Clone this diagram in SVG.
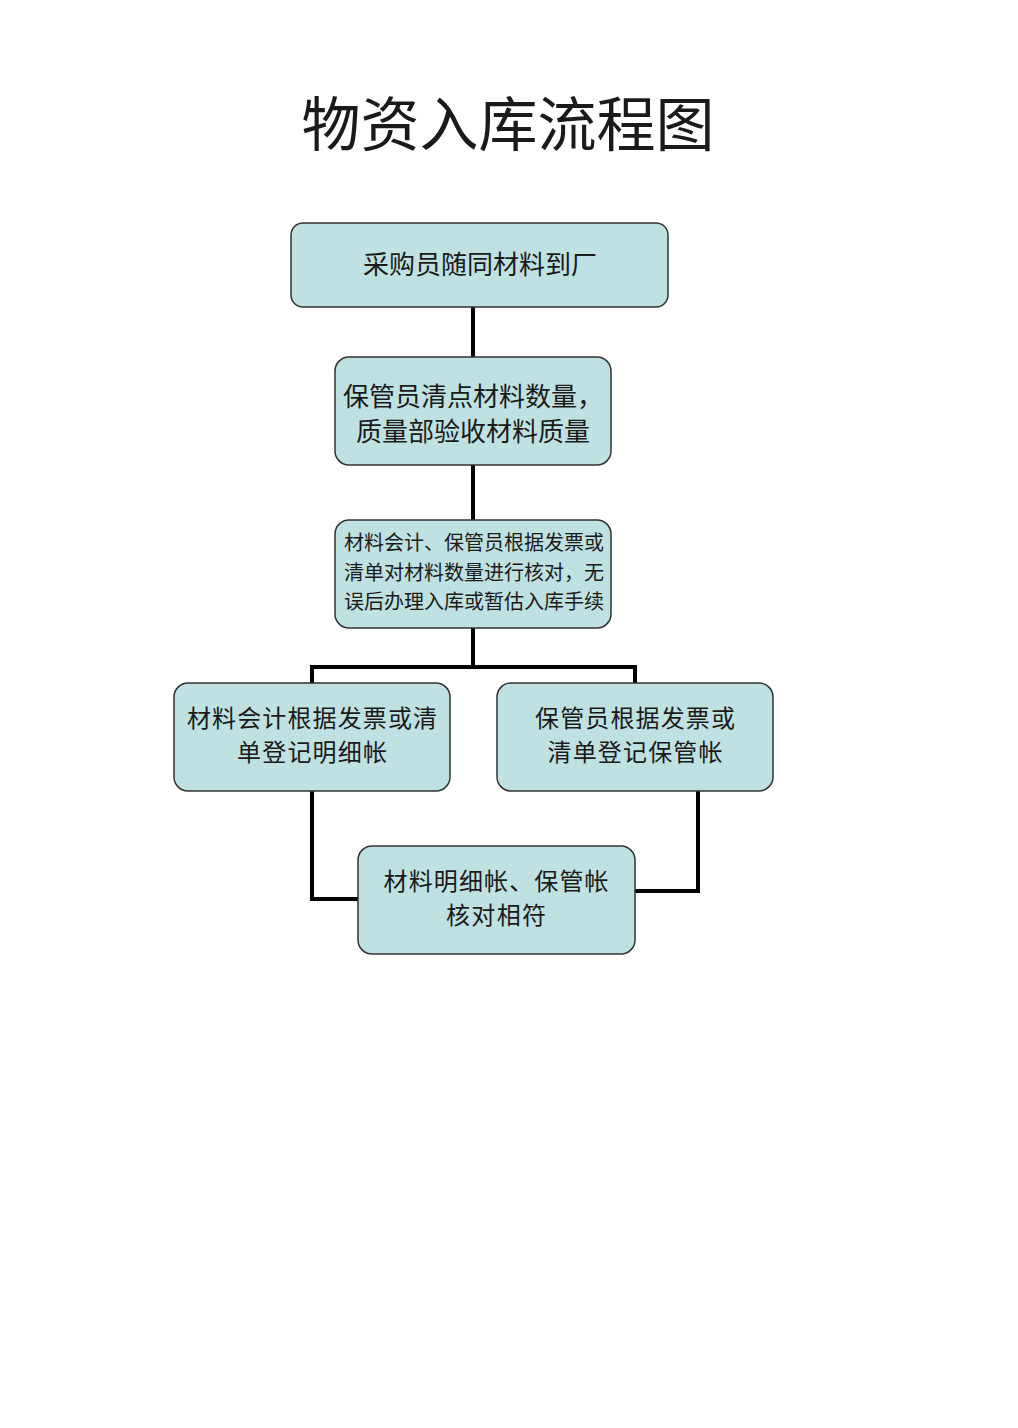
<svg xmlns="http://www.w3.org/2000/svg" width="1018" height="1428" viewBox="0 0 1018 1428">
<style>
.box{fill:#bfe1e1;stroke:#333;stroke-width:1.5}
.t{font-family:"Noto Sans CJK SC","Noto Sans",sans-serif;fill:#1a1a1a;text-anchor:middle}
.c{fill:none;stroke:#000;stroke-width:4}
</style>
<rect width="1018" height="1428" fill="#fff"/>
<text class="t" x="508" y="146" font-size="59">物资入库流程图</text>
<g id="connectors">
<path class="c" d="M473,307V357"/>
<path class="c" d="M473,465V520"/>
<path class="c" d="M473,628V667M312,683V667H635V683"/>
<path class="c" d="M312,791V899H358"/>
<path class="c" d="M698,791V891H635"/>
</g>
<g id="n1"><rect class="box" x="291" y="223" width="377" height="84" rx="12"/>
<text class="t" x="480" y="274" font-size="26">采购员随同材料到厂</text></g>
<g id="n2"><rect class="box" x="335" y="357" width="276" height="108" rx="14"/>
<text class="t" x="473" y="406" font-size="26">保管员清点材料数量，</text>
<text class="t" x="473" y="441" font-size="26">质量部验收材料质量</text></g>
<g id="n3"><rect class="box" x="335" y="520" width="276" height="108" rx="14"/>
<text class="t" x="474" y="550" font-size="20">材料会计、保管员根据发票或</text>
<text class="t" x="474" y="580" font-size="20">清单对材料数量进行核对，无</text>
<text class="t" x="474" y="609" font-size="20">误后办理入库或暂估入库手续</text></g>
<g id="n4"><rect class="box" x="174" y="683" width="276" height="108" rx="14"/>
<text class="t" x="312" y="727" font-size="24" textLength="250" lengthAdjust="spacing">材料会计根据发票或清</text>
<text class="t" x="312" y="761" font-size="24" textLength="150" lengthAdjust="spacing">单登记明细帐</text></g>
<g id="n5"><rect class="box" x="497" y="683" width="276" height="108" rx="14"/>
<text class="t" x="635" y="727" font-size="24" textLength="200" lengthAdjust="spacing">保管员根据发票或</text>
<text class="t" x="635" y="761" font-size="24" textLength="175" lengthAdjust="spacing">清单登记保管帐</text></g>
<g id="n6"><rect class="box" x="358" y="846" width="277" height="108" rx="14"/>
<text class="t" x="496" y="890" font-size="24" textLength="225" lengthAdjust="spacing">材料明细帐、保管帐</text>
<text class="t" x="496" y="924" font-size="24" textLength="100" lengthAdjust="spacing">核对相符</text></g>
</svg>
